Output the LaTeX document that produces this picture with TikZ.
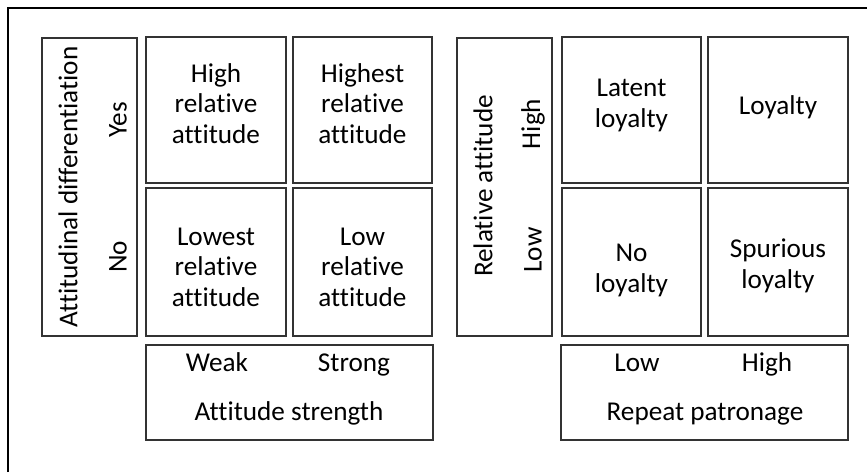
\documentclass[tikz,border=0pt]{standalone}
\usepackage{fontspec}
\setmainfont{Carlito}[Ligatures=NoCommon]
\begin{document}
\begin{tikzpicture}[x=1pt,y=-1pt,
  box/.style={draw=black!80, line width=1.2pt, rectangle, inner sep=0pt},
  txt/.style={font=\fontsize{27.2}{30.5}\selectfont, align=center, inner sep=0pt, text=black},
  btxt/.style={txt, anchor=base},
  vtxt/.style={txt, rotate=90}]
\useasboundingbox (0,0) rectangle (867,472);
% outer frame (top and left edges only)
\draw[line width=2pt, black] (7.5,472) -- (7.5,7.5) -- (867,7.5);

% ---------- left matrix ----------
\node[box, minimum width=95pt, minimum height=298pt] (lax) at (89.5,187) {};
\node[box, minimum width=140pt, minimum height=146pt] (ltl) at (216,110) {};
\node[box, minimum width=139pt, minimum height=146pt] (ltr) at (362.5,110) {};
\node[box, minimum width=140pt, minimum height=148pt] (lbl) at (216,262) {};
\node[box, minimum width=139pt, minimum height=148pt] (lbr) at (362.5,262) {};
\node[box, minimum width=287pt, minimum height=95pt] (lbot) at (289.5,392.5) {};

\node[vtxt] (laxt) at (68,187) {Attitudinal differentiation};
\node[vtxt] (lyes) at (118,120) {Yes};
\node[vtxt] (lno) at (118,257) {No};
\node[txt] (ltlt) at (216,103.5) {High\\relative\\attitude};
\node[txt] (ltrt) at (362.5,103.5) {Highest\\relative\\attitude};
\node[txt] (lblt) at (216,267) {Lowest\\relative\\attitude};
\node[txt] (lbrt) at (362.5,267) {Low\\relative\\attitude};
\node[btxt] (lweak) at (217,371) {Weak};
\node[btxt] (lstrong) at (354,371) {Strong};
\node[btxt] (lbott) at (289,420) {Attitude strength};

% ---------- right matrix ----------
\node[box, minimum width=95pt, minimum height=298pt] (rax) at (504.5,187) {};
\node[box, minimum width=139pt, minimum height=146pt] (rtl) at (631.5,110) {};
\node[box, minimum width=140pt, minimum height=146pt] (rtr) at (778,110) {};
\node[box, minimum width=139pt, minimum height=148pt] (rbl) at (631.5,262) {};
\node[box, minimum width=140pt, minimum height=148pt] (rbr) at (778,262) {};
\node[box, minimum width=287pt, minimum height=95pt] (rbot) at (704.5,392.5) {};

\node[vtxt] (raxt) at (483,186) {Relative attitude};
\node[vtxt] (rhigh) at (533,124) {High};
\node[vtxt] (rlow) at (533,250) {Low};
\node[txt] (rtlt) at (631.5,105.5) {Latent\\loyalty};
\node[txt] (rtrt) at (778,107) {Loyalty};
\node[txt] (rblt) at (631.5,270.5) {No\\loyalty};
\node[txt] (rbrt) at (778,266) {Spurious\\loyalty};
\node[btxt] (rlowx) at (637,371) {Low};
\node[btxt] (rhighx) at (767,371) {High};
\node[btxt] (rbott) at (705,420) {Repeat patronage};
\end{tikzpicture}
\end{document}
